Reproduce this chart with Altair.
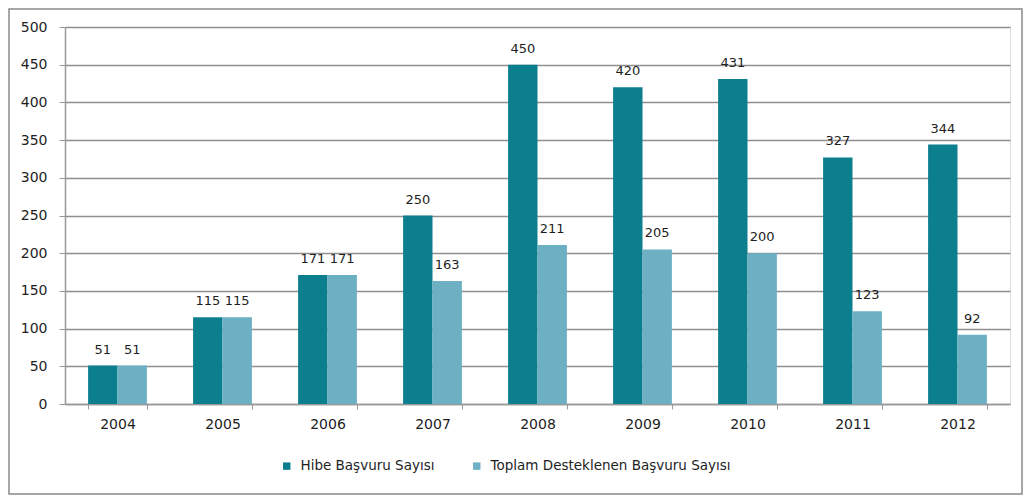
import altair as alt
import pandas as pd

years = ["2004", "2005", "2006", "2007", "2008", "2009", "2010", "2011", "2012"]
hibe = [51, 115, 171, 250, 450, 420, 431, 327, 344]
toplam = [51, 115, 171, 163, 211, 205, 200, 123, 92]
series = ["Hibe Başvuru Sayısı", "Toplam Desteklenen Başvuru Sayısı"]
colors = ["#0B7F8D", "#6DB0C3"]
yticks = [0, 50, 100, 150, 200, 250, 300, 350, 400, 450, 500]

rows = []
for i, y in enumerate(years):
    rows.append({"Yıl": y, "Seri": series[0], "Değer": hibe[i]})
    rows.append({"Yıl": y, "Seri": series[1], "Değer": toplam[i]})
df = pd.DataFrame(rows)

FONT = "DejaVu Sans"
TXT = "#1e1e1e"

x = alt.X("Yıl:N", title=None,
          scale=alt.Scale(paddingInner=0.44, paddingOuter=0.22),
          axis=alt.Axis(labelAngle=0, labelFontSize=14, labelColor=TXT,
                        labelFont=FONT, labelPadding=8, tickBand="extent",
                        tickColor="#999999", tickSize=5, domainColor="#999999",
                        domainWidth=1.5, labelOverlap=False))
xo = alt.XOffset("Seri:N", sort=series, scale=alt.Scale(paddingInner=0, paddingOuter=0))
y = alt.Y("Değer:Q", title=None,
          scale=alt.Scale(domain=[0, 500], nice=False),
          axis=alt.Axis(values=yticks, labelFontSize=14,
                        labelColor=TXT, labelFont=FONT, labelPadding=12,
                        labelOverlap=False,
                        tickColor="#999999", tickSize=6, domainColor="#999999",
                        domainWidth=1.5, gridColor="#8f8f8f", gridWidth=1.5))

base = alt.Chart(df)

bars = base.mark_bar().encode(
    x=x,
    xOffset=xo,
    y=y,
    color=alt.Color("Seri:N", sort=series,
                    scale=alt.Scale(domain=series, range=colors),
                    legend=alt.Legend(title=None, orient="none", direction="horizontal",
                                      legendX=215, legendY=432, symbolType="square",
                                      symbolSize=55, symbolStrokeWidth=0,
                                      labelFontSize=13.5, labelFont=FONT, labelOffset=7,
                                      labelColor=TXT, columnPadding=35,
                                      labelLimit=400)),
)

labels = base.mark_text(baseline="bottom", dy=-9, fontSize=13, font=FONT,
                        color=TXT).encode(
    x=x,
    xOffset=xo,
    y=y,
    text=alt.Text("Değer:Q"),
)

frame = alt.Chart(pd.DataFrame({"a": [0]})).mark_rect(
    fill=None, stroke="#8a8a8a", strokeWidth=1.5).encode(
    x=alt.value(-56), x2=alt.value(957),
    y=alt.value(-18), y2=alt.value(467),
)

chart = alt.layer(bars, labels, frame).properties(
    width=945, height=377,
    autosize=alt.AutoSizeParams(type="none"),
    padding={"left": 57, "top": 19, "right": 15, "bottom": 92},
).configure_view(stroke=None).configure(background="white")

chart.save("out.html", embed_options={"renderer": "svg", "actions": False})
